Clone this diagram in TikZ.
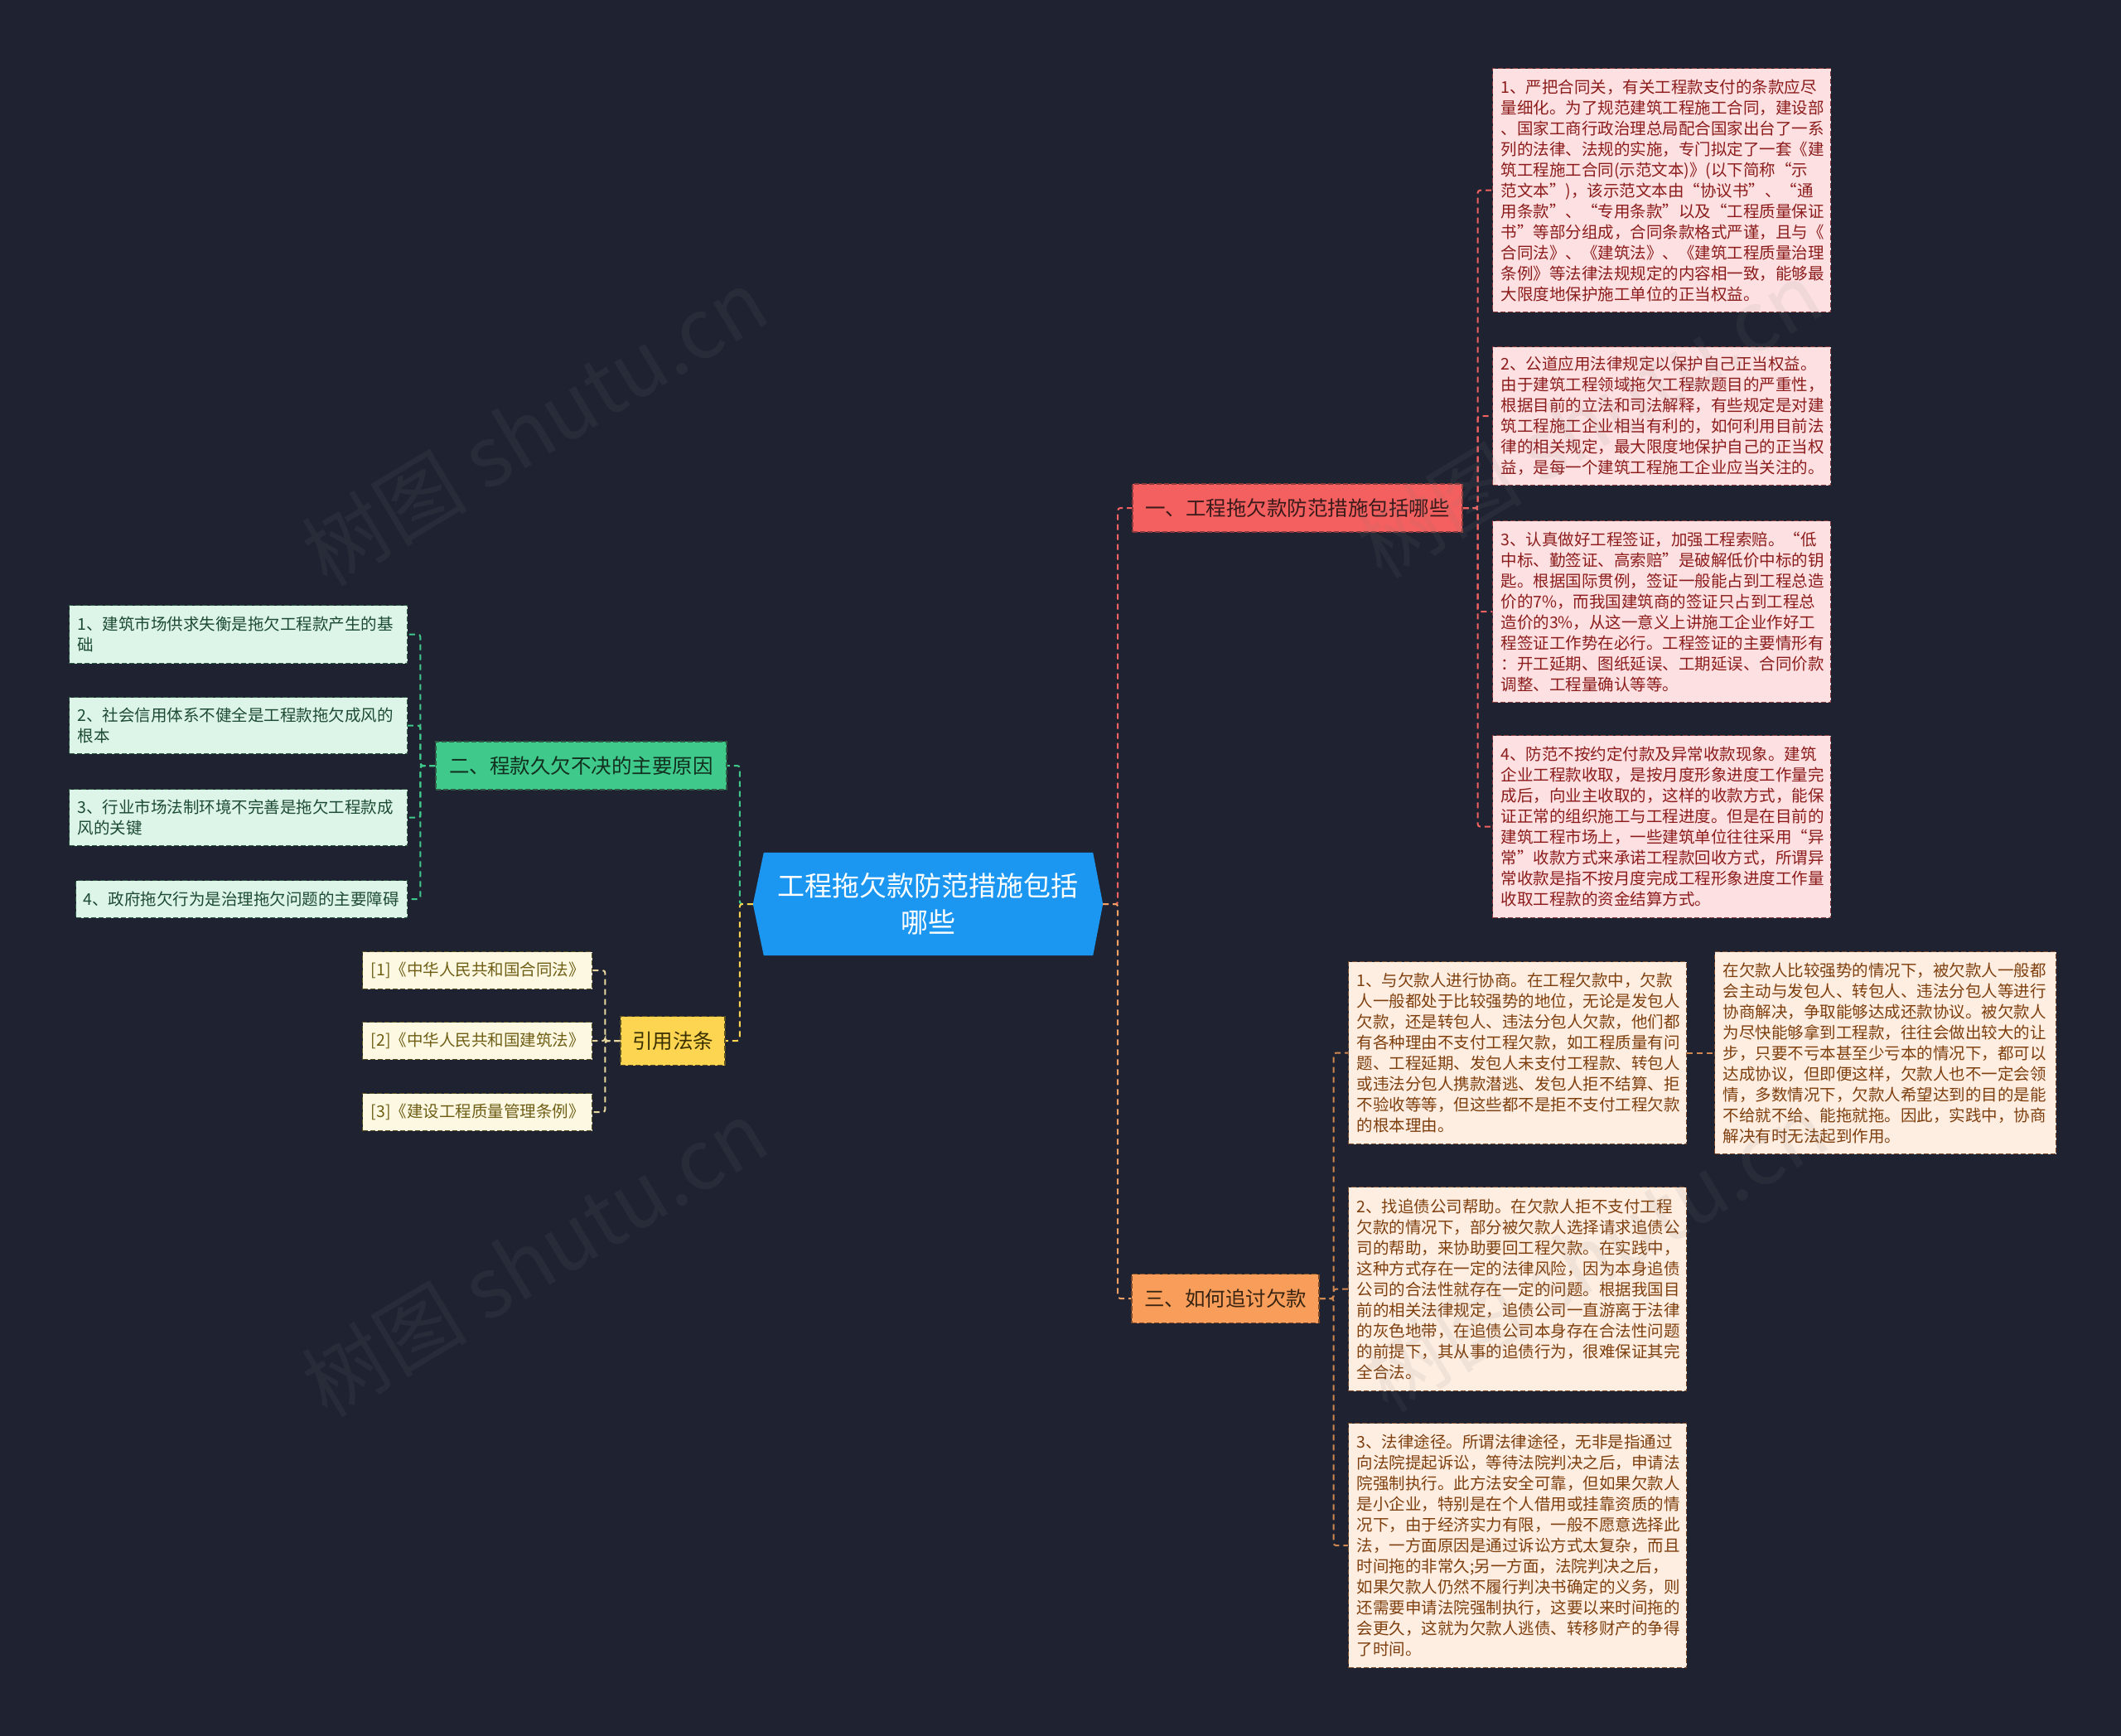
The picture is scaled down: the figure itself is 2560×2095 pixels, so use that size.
\documentclass[tikz,border=0pt]{standalone}
\usepackage{fontspec}
\setmainfont{Noto Sans CJK SC}
\usetikzlibrary{backgrounds}
\definecolor{bgc}{HTML}{1F2230}
\definecolor{cblue}{HTML}{1B97F2}
\definecolor{rbr}{HTML}{F45F5F}
\definecolor{rfill}{HTML}{FDE1E2}
\definecolor{rtext}{HTML}{8C1C1C}
\definecolor{rborder}{HTML}{8A3A3A}
\definecolor{rbrtext}{HTML}{3A1A1A}
\definecolor{rline}{HTML}{F06262}
\definecolor{obr}{HTML}{F89E5A}
\definecolor{ofill}{HTML}{FEEEE2}
\definecolor{otext}{HTML}{7E3F0E}
\definecolor{oborder}{HTML}{7A4A2A}
\definecolor{obrtext}{HTML}{3A2412}
\definecolor{oline}{HTML}{F2A064}
\definecolor{osub}{HTML}{D08850}
\definecolor{gbr}{HTML}{3FC98B}
\definecolor{gfill}{HTML}{DDF5E9}
\definecolor{gtext}{HTML}{1D4A32}
\definecolor{gborder}{HTML}{2F5A44}
\definecolor{gbrtext}{HTML}{12301F}
\definecolor{gline}{HTML}{3FC98B}
\definecolor{ybr}{HTML}{FDD550}
\definecolor{yfill}{HTML}{FDF8E1}
\definecolor{ytext}{HTML}{6E5E16}
\definecolor{yborder}{HTML}{5A5020}
\definecolor{ybrtext}{HTML}{3A3000}
\definecolor{yline}{HTML}{FDD550}
\definecolor{ysub}{HTML}{E8D8A0}
\newcommand\bxf{\fontsize{19.5}{25}\selectfont}
\newcommand\brf{\fontsize{24.5}{30}\selectfont}
\newcommand\cnf{\fontsize{33}{44}\selectfont}
\newcommand\wmf{\fontsize{100}{110}\selectfont}
\tikzset{
  infobox/.style={draw, dash pattern=on 6pt off 3pt, line width=1.2pt, anchor=north west,
    inner xsep=10pt, inner ysep=0pt, align=left, font=\bxf},
  redbox/.style={infobox, fill=rfill, draw=rborder, text=rtext},
  orbox/.style={infobox, fill=ofill, draw=oborder, text=otext},
  grbox/.style={infobox, fill=gfill, draw=gborder, text=gtext},
  ylbox/.style={infobox, fill=yfill, draw=yborder, text=ytext},
  branch/.style={draw, dash pattern=on 6pt off 3pt, line width=1.2pt, inner sep=0pt, font=\brf},
  conn/.style={dash pattern=on 7pt off 5pt, line width=2pt, rounded corners=3pt},
  wmark/.style={text=gray, text opacity=0.10, font=\wmf, rotate=31}
}
\begin{document}
\begin{tikzpicture}[x=1pt,y=-1pt]
\useasboundingbox (0,0) rectangle (2560,2095);

% central node
\node[minimum width=422pt, minimum height=124pt, inner sep=0pt, align=center, text=white, font=\cnf] (c) at (1120,1091) {工程拖欠款防范措施包括\\哪些};

% branch nodes
\node[branch, fill=rbr, draw=rborder, text=rbrtext, minimum width=398pt, minimum height=58pt] (b1) at (1566,613) {一、工程拖欠款防范措施包括哪些};
\node[branch, fill=obr, draw=oborder, text=obrtext, minimum width=226pt, minimum height=59pt] (b3) at (1479,1567) {三、如何追讨欠款};
\node[branch, fill=gbr, draw=gborder, text=gbrtext, minimum width=351pt, minimum height=58pt] (b2) at (701.5,924) {二、程款久欠不决的主要原因};
\node[branch, fill=ybr, draw=yborder, text=ybrtext, minimum width=126pt, minimum height=59pt] (b4) at (812,1256) {引用法条};

% red boxes
\node[redbox, minimum width=408pt, text width=388pt, minimum height=294pt] (r1) at (1801,82) {1、严把合同关，有关工程款支付的条款应尽\\量细化。为了规范建筑工程施工合同，建设部\\、国家工商行政治理总局配合国家出台了一系\\列的法律、法规的实施，专门拟定了一套《建\\筑工程施工合同(示范文本)》(以下简称“示\\范文本”)，该示范文本由“协议书”、“通\\用条款”、“专用条款”以及“工程质量保证\\书”等部分组成，合同条款格式严谨，且与《\\合同法》、《建筑法》、《建筑工程质量治理\\条例》等法律法规规定的内容相一致，能够最\\大限度地保护施工单位的正当权益。};
\node[redbox, minimum width=408pt, text width=388pt, minimum height=167pt] (r2) at (1801,418) {2、公道应用法律规定以保护自己正当权益。\\由于建筑工程领域拖欠工程款题目的严重性，\\根据目前的立法和司法解释，有些规定是对建\\筑工程施工企业相当有利的，如何利用目前法\\律的相关规定，最大限度地保护自己的正当权\\益，是每一个建筑工程施工企业应当关注的。};
\node[redbox, minimum width=408pt, text width=388pt, minimum height=219pt] (r3) at (1801,628) {3、认真做好工程签证，加强工程索赔。“低\\中标、勤签证、高索赔”是破解低价中标的钥\\匙。根据国际贯例，签证一般能占到工程总造\\价的7\%，而我国建筑商的签证只占到工程总\\造价的3\%，从这一意义上讲施工企业作好工\\程签证工作势在必行。工程签证的主要情形有\\：开工延期、图纸延误、工期延误、合同价款\\调整、工程量确认等等。};
\node[redbox, minimum width=408pt, text width=388pt, minimum height=220pt] (r4) at (1801,887) {4、防范不按约定付款及异常收款现象。建筑\\企业工程款收取，是按月度形象进度工作量完\\成后，向业主收取的，这样的收款方式，能保\\证正常的组织施工与工程进度。但是在目前的\\建筑工程市场上，一些建筑单位往往采用“异\\常”收款方式来承诺工程款回收方式，所谓异\\常收款是指不按月度完成工程形象进度工作量\\收取工程款的资金结算方式。};

% orange boxes
\node[orbox, minimum width=408pt, text width=388pt, minimum height=220pt] (o1) at (1627,1160) {1、与欠款人进行协商。在工程欠款中，欠款\\人一般都处于比较强势的地位，无论是发包人\\欠款，还是转包人、违法分包人欠款，他们都\\有各种理由不支付工程欠款，如工程质量有问\\题、工程延期、发包人未支付工程款、转包人\\或违法分包人携款潜逃、发包人拒不结算、拒\\不验收等等，但这些都不是拒不支付工程欠款\\的根本理由。};
\node[orbox, minimum width=412pt, text width=392pt, minimum height=244pt] (o1s) at (2069,1148) {在欠款人比较强势的情况下，被欠款人一般都\\会主动与发包人、转包人、违法分包人等进行\\协商解决，争取能够达成还款协议。被欠款人\\为尽快能够拿到工程款，往往会做出较大的让\\步，只要不亏本甚至少亏本的情况下，都可以\\达成协议，但即便这样，欠款人也不一定会领\\情，多数情况下，欠款人希望达到的目的是能\\不给就不给、能拖就拖。因此，实践中，协商\\解决有时无法起到作用。};
\node[orbox, minimum width=408pt, text width=388pt, minimum height=246pt] (o2) at (1627,1432) {2、找追债公司帮助。在欠款人拒不支付工程\\欠款的情况下，部分被欠款人选择请求追债公\\司的帮助，来协助要回工程欠款。在实践中，\\这种方式存在一定的法律风险，因为本身追债\\公司的合法性就存在一定的问题。根据我国目\\前的相关法律规定，追债公司一直游离于法律\\的灰色地带，在追债公司本身存在合法性问题\\的前提下，其从事的追债行为，很难保证其完\\全合法。};
\node[orbox, minimum width=408pt, text width=388pt, minimum height=295pt] (o3) at (1627,1717) {3、法律途径。所谓法律途径，无非是指通过\\向法院提起诉讼，等待法院判决之后，申请法\\院强制执行。此方法安全可靠，但如果欠款人\\是小企业，特别是在个人借用或挂靠资质的情\\况下，由于经济实力有限，一般不愿意选择此\\法，一方面原因是通过诉讼方式太复杂，而且\\时间拖的非常久;另一方面，法院判决之后，\\如果欠款人仍然不履行判决书确定的义务，则\\还需要申请法院强制执行，这要以来时间拖的\\会更久，这就为欠款人逃债、转移财产的争得\\了时间。};

% green boxes
\node[grbox, minimum width=408pt, text width=388pt, minimum height=70pt] (g1) at (83,730) {1、建筑市场供求失衡是拖欠工程款产生的基\\础};
\node[grbox, minimum width=408pt, text width=388pt, minimum height=68pt] (g2) at (83,841) {2、社会信用体系不健全是工程款拖欠成风的\\根本};
\node[grbox, minimum width=408pt, text width=388pt, minimum height=68pt] (g3) at (83,952) {3、行业市场法制环境不完善是拖欠工程款成\\风的关键};
\node[grbox, minimum width=400pt, text width=382pt, minimum height=45pt, inner xsep=9pt] (g4) at (91,1062) {4、政府拖欠行为是治理拖欠问题的主要障碍};

% yellow boxes
\node[ylbox, minimum width=277pt, text width=257pt, minimum height=45pt] (y1) at (437,1148) {[1]《中华人民共和国合同法》};
\node[ylbox, minimum width=277pt, text width=257pt, minimum height=45pt] (y2) at (437,1233) {[2]《中华人民共和国建筑法》};
\node[ylbox, minimum width=277pt, text width=257pt, minimum height=45pt] (y3) at (437,1319) {[3]《建设工程质量管理条例》};

\begin{scope}[on background layer]
\fill[bgc] (0,0) rectangle (2560,2095);
\fill[cblue] ([xshift=13pt]c.north west) -- ([xshift=-12pt]c.north east) -- (c.east) -- ([xshift=-12pt]c.south east) -- ([xshift=13pt]c.south west) -- (c.west) -- cycle;
% connectors
\draw[conn, rline] (c.east) -- ++(18,0) |- (b1.west);
\draw[conn, oline] (c.east) -- ++(18,0) |- (b3.west);
\draw[conn, gline] (c.west) -- ++(-16,0) |- (b2.east);
\draw[conn, yline] (c.west) -- ++(-16,0) |- (b4.east);
\foreach \t in {r1,r2,r3,r4} \draw[conn, rline] (b1.east) -- ++(18,0) |- (\t.west);
\foreach \t in {o1,o2,o3} \draw[conn, osub] (b3.east) -- ++(17,0) |- (\t.west);
\draw[conn, osub] (o1.east) -- (o1s.west);
\foreach \t in {g1,g2,g3,g4} \draw[conn, gline] (b2.west) -- ++(-18,0) |- (\t.east);
\foreach \t in {y1,y2,y3} \draw[conn, ysub] (b4.west) -- ++(-18,0) |- (\t.east);
\end{scope}

% watermarks
\node[wmark] (w1) at (645,515) {树图 shutu.cn};
\node[wmark] (w2) at (645,1518) {树图 shutu.cn};
\node[wmark] (w3) at (1918,506) {树图 shutu.cn};
\node[wmark] (w4) at (1925,1512) {树图 shutu.cn};
\end{tikzpicture}
\end{document}
